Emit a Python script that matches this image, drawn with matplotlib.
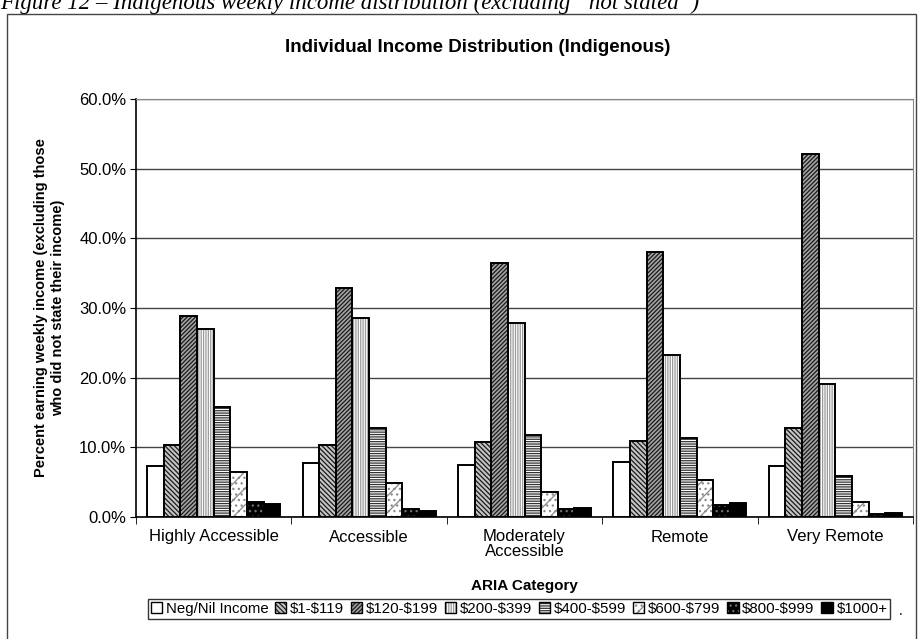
import matplotlib.pyplot as plt
import matplotlib.patches as mpatches
from matplotlib.legend_handler import HandlerTuple
import numpy as np
from matplotlib.ticker import FuncFormatter

plt.rcParams['font.family'] = ['Liberation Sans', 'DejaVu Sans']
plt.rcParams['hatch.linewidth'] = 0.9

categories = ["Highly Accessible", "Accessible", "Moderately\nAccessible", "Remote", "Very Remote"]
series = ["Neg/Nil Income", r"\$1-\$119", r"\$120-\$199", r"\$200-\$399",
          r"\$400-\$599", r"\$600-\$799", r"\$800-\$999", r"\$1000+"]

neg_nil = [7.3, 7.8, 7.4, 7.9, 7.3]
inc_1_119 = [10.3, 10.4, 10.8, 10.9, 12.8]
inc_120_199 = [28.8, 32.9, 36.5, 38.1, 52.1]
inc_200_399 = [27.0, 28.6, 27.8, 23.2, 19.1]
inc_400_599 = [15.8, 12.8, 11.8, 11.4, 5.9]
inc_600_799 = [6.5, 4.9, 3.6, 5.3, 2.1]
inc_800_999 = [2.2, 1.2, 1.1, 1.7, 0.5]
inc_1000_plus = [1.9, 0.9, 1.3, 2.0, 0.6]

values = [neg_nil, inc_1_119, inc_120_199, inc_200_399,
          inc_400_599, inc_600_799, inc_800_999, inc_1000_plus]

# (facecolor, hatch, hatch colour)
styles = [
    ("white", None, "black"),
    ("#c4c4c4", "\\" * 7, "#1a1a1a"),
    ("#a4a4a4", "/" * 8, "#1a1a1a"),
    ("white", "|" * 7, "#9a9a9a"),
    ("white", "-" * 7, "#333333"),
    ("white", "//...", "#8a8a8a"),
    ("black", "...", "#707070"),
    ("black", None, "black"),
]

fig = plt.figure(figsize=(9.19, 6.39), dpi=100)
ax = fig.add_axes([136 / 919, 1 - 517 / 639, (913 - 136) / 919, (517 - 99) / 639])

x = np.arange(len(categories))
width = 0.107
handles = []
for i, (vals, (fc, hatch, hc)) in enumerate(zip(values, styles)):
    offs = (i - 3.5) * width
    ax.bar(x + offs, vals, width, facecolor=fc, edgecolor=hc,
           hatch=hatch, linewidth=0, zorder=3)
    # black outline drawn separately so hatch colour can differ
    ax.bar(x + offs, vals, width, facecolor="none", edgecolor="black",
           linewidth=1.4, zorder=4)
    fill = mpatches.Patch(facecolor=fc, edgecolor=hc, hatch=hatch, linewidth=0)
    edge = mpatches.Patch(facecolor="none", edgecolor="black", linewidth=1.0)
    handles.append((fill, edge))

ax.set_xlim(-0.5, len(categories) - 0.5)
ax.set_ylim(0, 60)
ax.set_yticks(np.arange(0, 61, 10))
ax.yaxis.set_major_formatter(FuncFormatter(lambda v, p: f"{v:.1f}%"))
ax.set_xticks(x)
ax.set_xticklabels(categories, fontsize=12, linespacing=1.0)
ax.set_xticks(np.arange(-0.5, len(categories), 1), minor=True)
ax.tick_params(axis="x", which="major", length=0, pad=9)
ax.tick_params(axis="x", which="minor", length=5, direction="out")
ax.tick_params(axis="y", length=4, direction="out", labelsize=12, pad=3)
ax.grid(axis="y", color="#444444", linewidth=1.0, zorder=0)

for side in ["top", "right"]:
    ax.spines[side].set_color("#888888")
    ax.spines[side].set_linestyle((0, (2, 1)))
    ax.spines[side].set_linewidth(0.8)
ax.spines["left"].set_linewidth(1.2)
ax.spines["bottom"].set_linewidth(1.2)

ax.set_ylabel("Percent earning weekly income (excluding those\nwho did not state their income)",
              fontsize=10.5, fontweight="bold", labelpad=10, linespacing=1.3)
ax.set_xlabel("ARIA Category", fontsize=11, fontweight="bold", labelpad=14)

fig.text(478 / 919, 1 - 47 / 639, "Individual Income Distribution (Indigenous)",
         ha="center", va="center", fontsize=13.5, fontweight="bold")

# caption above the chart box, partly cut off at the top as in the scan
fig.text(0.0, 1 - 9 / 639,
         "Figure 12 \u2013 Indigenous weekly income distribution (excluding \u201cnot stated\u201d)",
         ha="left", va="baseline", fontsize=16.5, style="italic",
         family=["Liberation Serif", "DejaVu Serif"])

# outer chart border
fig.patches.append(mpatches.Rectangle((7 / 919, -0.05), (916 - 7) / 919, 1.05 - 14 / 639,
                                      transform=fig.transFigure, fill=False,
                                      edgecolor="#444444", linewidth=1.0))

leg = fig.legend(handles, series, loc="center", bbox_to_anchor=(519 / 919, 1 - 609 / 639),
                 ncol=8, fontsize=10.8, frameon=True, fancybox=False, edgecolor="black",
                 handlelength=0.75, handleheight=0.75, handletextpad=0.25,
                 columnspacing=0.45, borderpad=0.2, borderaxespad=0,
                 handler_map={tuple: HandlerTuple(ndivide=1)})
leg.get_frame().set_linewidth(1.0)
fig.text(899 / 919, 1 - 615 / 639, ".", fontsize=10)

fig.savefig("out.png", dpi=100)
